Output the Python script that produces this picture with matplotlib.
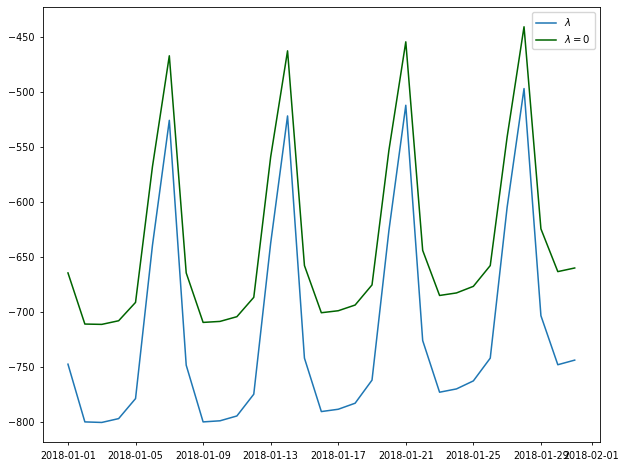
import matplotlib

matplotlib.use("Agg")

import matplotlib.dates as mdates
import matplotlib.pyplot as plt
import pandas as pd

dates = pd.date_range("2018-01-01", "2018-01-31", freq="D")

lam_values = [
    -747.5, -800.0, -800.5, -797.0, -778.8, -639.6, -525.7, -748.4,
    -800.0, -799.0, -794.6, -774.8, -637.5, -521.7, -742.0, -790.6,
    -788.5, -783.0, -762.0, -626.0, -512.0, -726.0, -773.0, -770.0,
    -762.7, -742.0, -604.7, -496.8, -703.4, -748.0, -743.8,
]
lam_zero_values = [
    -664.5, -711.0, -711.3, -708.0, -691.3, -568.0, -467.0, -664.5,
    -709.5, -708.6, -704.3, -686.7, -559.0, -462.5, -657.8, -700.7,
    -698.9, -693.7, -675.4, -553.0, -454.3, -644.0, -685.0, -682.7,
    -676.7, -657.8, -540.8, -440.6, -624.4, -663.3, -660.0,
]

plt.rcParams["font.size"] = 6.9

figure = plt.figure(figsize=(6.27, 4.66), dpi=100)
ax = figure.add_axes([0.068, 0.051, 0.889, 0.934])

ax.plot(dates, lam_values, color="#1f77b4", linewidth=1.1, label=r"$\lambda$")
ax.plot(dates, lam_zero_values, color="darkgreen", linewidth=1.1, label=r"$\lambda = 0$")

ax.xaxis.set_major_locator(mdates.DayLocator(bymonthday=range(1, 32, 4)))
ax.xaxis.set_major_formatter(mdates.DateFormatter("%Y-%m-%d"))
ax.tick_params(labelsize=6.9, length=2.5, width=0.6)
for spine in ax.spines.values():
    spine.set_linewidth(0.6)

ax.legend(loc="upper right", fontsize=7.3)

figure.savefig("out.png", dpi=100, facecolor="white")
